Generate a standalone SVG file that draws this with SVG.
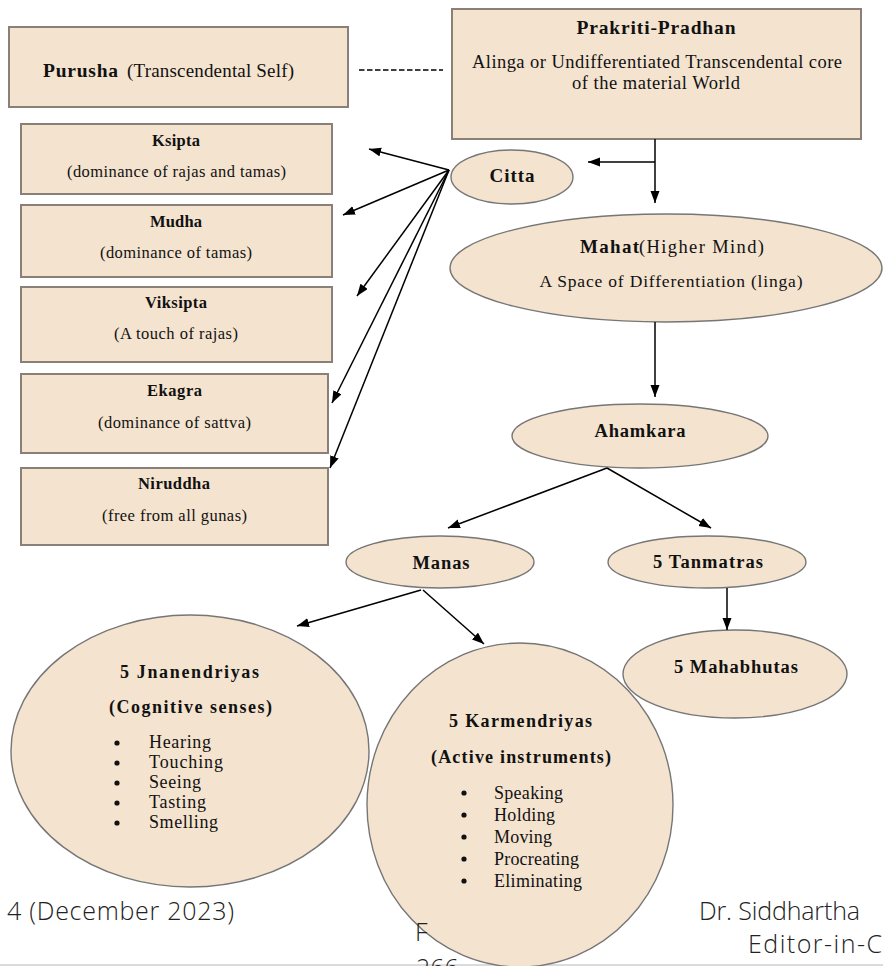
<svg xmlns="http://www.w3.org/2000/svg" width="883" height="966" viewBox="0 0 883 966">
<style>
.box{fill:#F4E3CF;stroke:#8a8078;stroke-width:2}
.ell{fill:#F4E3CF;stroke:#767676;stroke-width:1.4}
.t{font-family:"Liberation Serif","Times New Roman",serif;fill:#111}
.b{font-weight:bold}
.c{text-anchor:middle}
.con{stroke:#000;stroke-width:1.5;fill:none}
.pg{font-family:"Open Sans","Liberation Sans",sans-serif;font-weight:300;fill:#222;font-size:25px}
</style>
<defs>
<marker id="ah" markerUnits="userSpaceOnUse" markerWidth="13" markerHeight="10" refX="12" refY="4.5" orient="auto">
<path d="M0,0 L12,4.5 L0,9 z" fill="#000"/>
</marker>
</defs>
<rect width="883" height="966" fill="#fff"/>
<line x1="0" y1="965" x2="883" y2="965" stroke="#cfcfcf" stroke-width="1.5"/>

<g id="purusha">
<rect class="box" x="9" y="27" width="339" height="80"/>
<text class="t b" x="43" y="77" font-size="19.5" textLength="75">Purusha</text>
<text class="t" x="127" y="77" font-size="19" textLength="167">(Transcendental Self)</text>
</g>
<g id="prakriti">
<rect class="box" x="452" y="9" width="409" height="130"/>
<text class="t b c" x="656" y="34" font-size="19.5" textLength="159">Prakriti-Pradhan</text>
<text class="t c" x="657" y="68" font-size="18.5" textLength="370">Alinga or Undifferentiated Transcendental core</text>
<text class="t c" x="656" y="89" font-size="18.5" textLength="168">of the material World</text>
</g>
<g id="citta">
<ellipse class="ell" cx="512" cy="177" rx="61" ry="27"/>
<text class="t b c" x="512" y="182" font-size="19" textLength="45">Citta</text>
</g>
<g id="mahat">
<ellipse class="ell" cx="666" cy="268" rx="216" ry="54"/>
<text class="t b" x="580" y="253" font-size="19" textLength="59">Mahat</text>
<text class="t" x="639" y="253" font-size="18.5" textLength="125">(Higher Mind)</text>
<text class="t c" x="671" y="287" font-size="17.5" textLength="263">A Space of Differentiation (linga)</text>
</g>
<g id="ahamkara">
<ellipse class="ell" cx="640" cy="436" rx="128" ry="32"/>
<text class="t b c" x="640" y="437" font-size="18.5" textLength="91">Ahamkara</text>
</g>
<g id="manas">
<ellipse class="ell" cx="440" cy="562" rx="94" ry="26"/>
<text class="t b c" x="441" y="569" font-size="18.5" textLength="57">Manas</text>
</g>
<g id="tanmatras">
<ellipse class="ell" cx="707" cy="562" rx="99" ry="26"/>
<text class="t b c" x="708" y="568" font-size="18.5" textLength="110">5 Tanmatras</text>
</g>
<g id="mahabhutas">
<ellipse class="ell" cx="735" cy="674" rx="112" ry="44"/>
<text class="t b c" x="736" y="673" font-size="18.5" textLength="124">5 Mahabhutas</text>
</g>

<g id="ksipta">
<rect class="box" x="21" y="124" width="311" height="70"/>
<text class="t b c" x="176" y="146" font-size="16.5" textLength="48">Ksipta</text>
<text class="t c" x="176.5" y="177" font-size="16.5" textLength="219">(dominance of rajas and tamas)</text>
</g>
<g id="mudha">
<rect class="box" x="21" y="205" width="311" height="72"/>
<text class="t b c" x="176" y="227" font-size="16.5" textLength="52">Mudha</text>
<text class="t c" x="176" y="258" font-size="16.5" textLength="152">(dominance of tamas)</text>
</g>
<g id="viksipta">
<rect class="box" x="21" y="287" width="311" height="75"/>
<text class="t b c" x="176" y="308" font-size="16.5" textLength="62">Viksipta</text>
<text class="t c" x="176" y="339" font-size="16.5" textLength="124">(A touch of rajas)</text>
</g>
<g id="ekagra">
<rect class="box" x="21" y="374" width="307" height="79"/>
<text class="t b c" x="174.5" y="396" font-size="16.5" textLength="55">Ekagra</text>
<text class="t c" x="174.5" y="428" font-size="16.5" textLength="153">(dominance of sattva)</text>
</g>
<g id="niruddha">
<rect class="box" x="21" y="468" width="307" height="77"/>
<text class="t b c" x="174" y="489" font-size="16.5" textLength="72">Niruddha</text>
<text class="t c" x="174.5" y="521" font-size="16.5" textLength="145">(free from all gunas)</text>
</g>

<g id="jnanendriyas">
<ellipse class="ell" cx="190" cy="751" rx="179" ry="136"/>
<text class="t b c" x="189.5" y="678" font-size="18" textLength="139">5 Jnanendriyas</text>
<text class="t b c" x="190.5" y="713" font-size="18" textLength="163">(Cognitive senses)</text>
<g fill="#111">
<circle cx="117" cy="743" r="2.6"/><circle cx="117" cy="763" r="2.6"/><circle cx="117" cy="783" r="2.6"/><circle cx="117" cy="803" r="2.6"/><circle cx="117" cy="823" r="2.6"/>
</g>
<text class="t" x="149" y="748" font-size="18" textLength="62">Hearing</text>
<text class="t" x="149" y="768" font-size="18" textLength="74">Touching</text>
<text class="t" x="149" y="788" font-size="18" textLength="52">Seeing</text>
<text class="t" x="149" y="808" font-size="18" textLength="57">Tasting</text>
<text class="t" x="149" y="828" font-size="18" textLength="69">Smelling</text>
</g>

<text class="pg" x="7" y="920" textLength="227">4 (December 2023)</text>

<g id="karmendriyas">
<ellipse class="ell" cx="520" cy="805" rx="153" ry="162"/>
<text class="t b c" x="520.5" y="727" font-size="18" textLength="143">5 Karmendriyas</text>
<text class="t b c" x="521" y="763" font-size="18" textLength="180">(Active instruments)</text>
<g fill="#111">
<circle cx="464" cy="793" r="2.6"/><circle cx="464" cy="815" r="2.6"/><circle cx="464" cy="837" r="2.6"/><circle cx="464" cy="859" r="2.6"/><circle cx="464" cy="881" r="2.6"/>
</g>
<text class="t" x="494" y="799" font-size="18" textLength="69">Speaking</text>
<text class="t" x="494" y="821" font-size="18" textLength="61">Holding</text>
<text class="t" x="494" y="843" font-size="18" textLength="58">Moving</text>
<text class="t" x="494" y="865" font-size="18" textLength="85">Procreating</text>
<text class="t" x="494" y="887" font-size="18" textLength="88">Eliminating</text>
</g>

<text class="pg" x="415" y="941">F</text>
<text class="pg" x="416" y="977">266</text>
<text class="pg" x="699" y="920" textLength="161">Dr. Siddhartha</text>
<text class="pg" x="748" y="953" textLength="134">Editor-in-C</text>

<g id="connectors">
<line class="con" x1="359" y1="70" x2="443" y2="70" stroke-dasharray="5.5 2.5"/>
<line class="con" x1="655" y1="139" x2="655" y2="203" marker-end="url(#ah)"/>
<line class="con" x1="655" y1="162" x2="588" y2="162" marker-end="url(#ah)"/>
<line class="con" x1="655" y1="322" x2="655" y2="397" marker-end="url(#ah)"/>
<line class="con" x1="449" y1="170" x2="369" y2="149" marker-end="url(#ah)"/>
<line class="con" x1="449" y1="170" x2="343" y2="215" marker-end="url(#ah)"/>
<line class="con" x1="449" y1="170" x2="357" y2="296" marker-end="url(#ah)"/>
<line class="con" x1="449" y1="170" x2="332" y2="403" marker-end="url(#ah)"/>
<line class="con" x1="449" y1="170" x2="330" y2="468" marker-end="url(#ah)"/>
<line class="con" x1="607" y1="468" x2="448" y2="528" marker-end="url(#ah)"/>
<line class="con" x1="607" y1="468" x2="711" y2="528" marker-end="url(#ah)"/>
<line class="con" x1="421" y1="590" x2="297" y2="626" marker-end="url(#ah)"/>
<line class="con" x1="423" y1="590" x2="484" y2="644" marker-end="url(#ah)"/>
<line class="con" x1="727" y1="588" x2="727" y2="630" marker-end="url(#ah)"/>
</g>
</svg>
